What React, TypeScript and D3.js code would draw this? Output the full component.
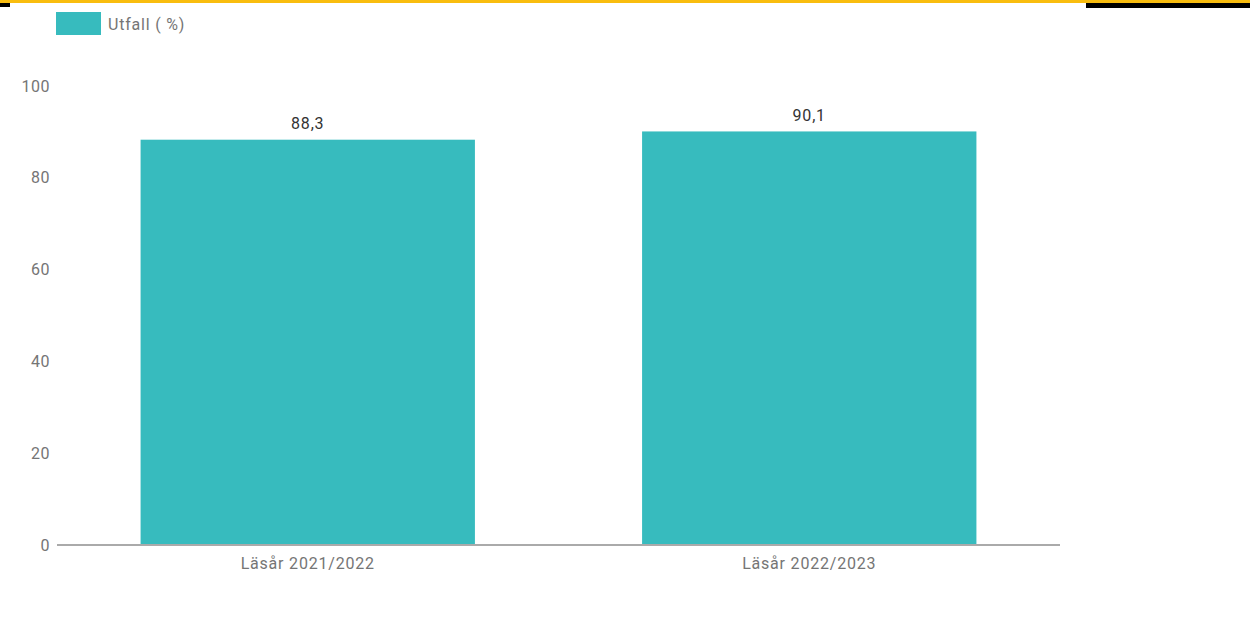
import React from "react";
import * as d3 from "d3";

const categories = ["Läsår 2021/2022", "Läsår 2022/2023"];
const values = [88.3, 90.1];
const yTicks = [0, 20, 40, 60, 80, 100];
const seriesName = "Utfall ( %)";

export default function App() {
  const W = 1250, H = 625;
  const left = 57, right = 1060, top = 86, bottom = 545;
  const x = d3.scaleBand<string>().domain(categories).range([left, right]).paddingInner(1 / 3).paddingOuter(1 / 6);
  const y = d3.scaleLinear().domain([0, 100]).range([bottom, top]);
  const color = "#37bbbe";
  const font = "Roboto, sans-serif";
  const ls = 0.8;
  return (
    <svg width={W} height={H} style={{ position: "absolute", left: 0, top: 0, background: "#fff" }} fontFamily={font}>
      <rect x={0} y={0} width={W} height={H} fill="#fff" />
      <rect x={0} y={3} width={10} height={4} fill="#000" />
      <rect x={1086} y={3} width={164} height={5} fill="#000" />
      <rect x={0} y={0} width={W} height={3} fill="#f9bd0f" />
      <rect x={56} y={12} width={45} height={23} fill={color} />
      <text x={108} y={24} dominantBaseline="central" fontSize={16} letterSpacing={ls} fill="#757575">{seriesName}</text>
      {yTicks.map((t) => (
        <text key={t} x={50} y={y(t)} textAnchor="end" dominantBaseline="central" fontSize={16} letterSpacing={0.5} fill="#757575">{t}</text>
      ))}
      {categories.map((c, i) => (
        <g key={c}>
          <rect x={x(c)} y={y(values[i])} width={x.bandwidth()} height={bottom - y(values[i])} fill={color} />
          <text x={(x(c) as number) + x.bandwidth() / 2} y={y(values[i]) - 16} textAnchor="middle" dominantBaseline="central" fontSize={16} letterSpacing={ls} fill="#333">
            {values[i].toFixed(1).replace(".", ",")}
          </text>
          <text x={(x(c) as number) + x.bandwidth() / 2} y={563} textAnchor="middle" dominantBaseline="central" fontSize={16} letterSpacing={ls} fill="#757575">{c}</text>
        </g>
      ))}
      <line x1={left} x2={right} y1={bottom} y2={bottom} stroke="#aaa" strokeWidth={2} />
    </svg>
  );
}
